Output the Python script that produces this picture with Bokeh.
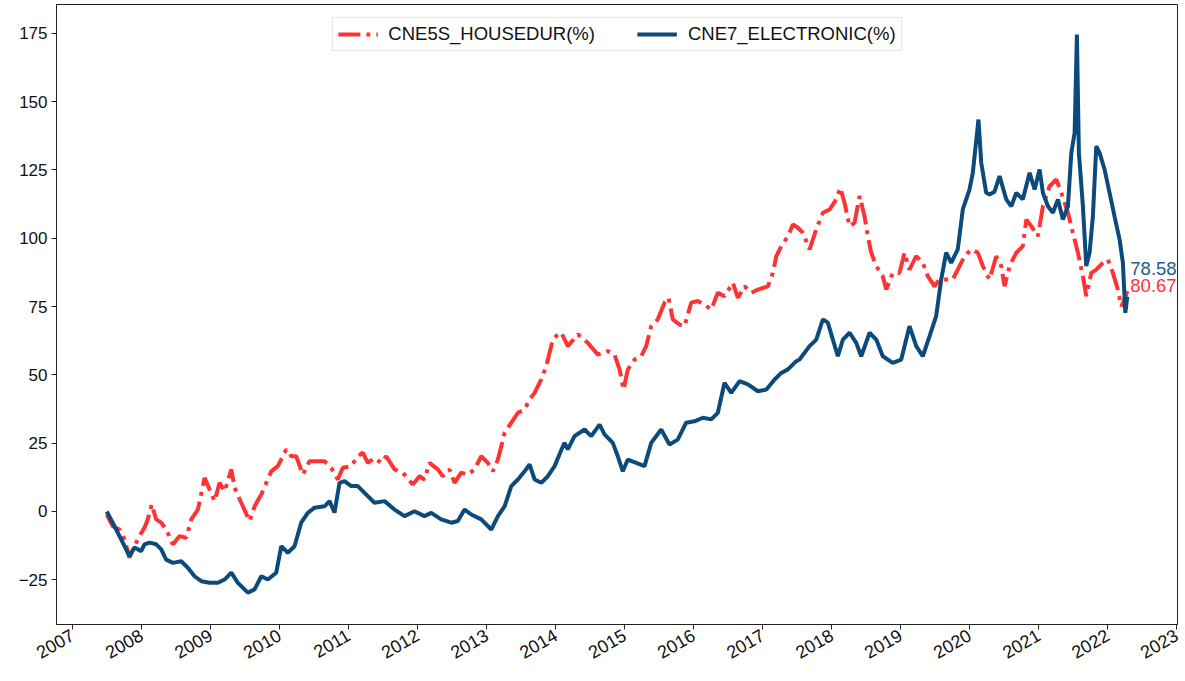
from datetime import datetime
from bokeh.plotting import figure
from bokeh.models import Range1d, FixedTicker, DatetimeTickFormatter, Legend, LegendItem
from bokeh.core.properties import value
from bokeh.embed import file_html
from bokeh.resources import INLINE

# ---- data (decimal years, cumulative return %) ----
elec_t = [2007.497, 2007.609, 2007.706, 2007.826, 2007.899, 2007.996, 2008.043, 2008.116, 2008.213, 2008.286,
          2008.358, 2008.454, 2008.575, 2008.671, 2008.768, 2008.865, 2008.986, 2009.106, 2009.203, 2009.300,
          2009.396, 2009.541, 2009.638, 2009.735, 2009.830, 2009.952, 2010.025, 2010.120, 2010.217, 2010.314,
          2010.410, 2010.507, 2010.652, 2010.725, 2010.797, 2010.870, 2010.942, 2011.039, 2011.135, 2011.232,
          2011.377, 2011.522, 2011.667, 2011.812, 2011.957, 2012.101, 2012.199, 2012.343, 2012.488, 2012.584,
          2012.681, 2012.778, 2012.923, 2013.068, 2013.164, 2013.261, 2013.358, 2013.454, 2013.551, 2013.623,
          2013.696, 2013.793, 2013.888, 2013.986, 2014.083, 2014.130, 2014.178, 2014.275, 2014.420, 2014.517,
          2014.638, 2014.710, 2014.830, 2014.903, 2014.975, 2015.048, 2015.170, 2015.290, 2015.387, 2015.532,
          2015.652, 2015.772, 2015.894, 2016.014, 2016.135, 2016.257, 2016.352, 2016.449, 2016.546, 2016.667,
          2016.787, 2016.932, 2017.054, 2017.174, 2017.271, 2017.367, 2017.488, 2017.535, 2017.681, 2017.778,
          2017.874, 2017.946, 2018.019, 2018.091, 2018.164, 2018.261, 2018.358, 2018.430, 2018.551, 2018.648,
          2018.743, 2018.888, 2019.010, 2019.130, 2019.228, 2019.323, 2019.420, 2019.517, 2019.590, 2019.662,
          2019.735, 2019.830, 2019.903, 2020.000, 2020.048, 2020.130, 2020.170, 2020.242, 2020.290, 2020.362,
          2020.435, 2020.532, 2020.604, 2020.677, 2020.772, 2020.870, 2020.942, 2021.014, 2021.062, 2021.135,
          2021.207, 2021.280, 2021.352, 2021.425, 2021.474, 2021.522, 2021.555, 2021.584, 2021.642, 2021.691,
          2021.739, 2021.787, 2021.836, 2021.884, 2021.957, 2022.029, 2022.101, 2022.174, 2022.222, 2022.257,
          2022.286]
elec_v = [0.0, -5.4, -10.2, -16.3, -13.2, -14.5, -12.0, -11.4, -12.0, -13.9,
          -17.6, -18.8, -18.2, -20.6, -23.7, -25.5, -26.1, -26.1, -24.9, -22.4,
          -26.1, -29.7, -28.5, -23.7, -24.9, -22.4, -12.7, -15.1, -12.7, -4.1,
          -0.5, 1.4, 1.9, 3.8, -0.4, 10.5, 11.1, 9.3, 9.3, 6.8,
          3.2, 3.8, 0.7, -1.7, 0.1, -1.7, -0.5, -2.9, -4.1, -3.5,
          0.7, -1.1, -2.9, -6.6, -1.7, 1.9, 9.3, 11.7, 14.7, 17.2,
          11.7, 10.5, 12.9, 16.6, 22.5, 25.1, 22.7, 27.6, 30.0, 27.6,
          31.8, 28.2, 25.1, 20.2, 14.7, 19.0, 17.8, 16.6, 25.1, 30.0,
          24.5, 26.3, 32.5, 33.0, 34.3, 33.7, 36.1, 47.1, 43.4, 47.7,
          46.5, 44.0, 44.6, 48.3, 50.7, 52.0, 55.0, 55.6, 60.5, 62.9,
          70.3, 69.1, 62.9, 56.8, 62.9, 65.4, 61.7, 56.8, 65.4, 62.9,
          56.8, 54.4, 55.6, 67.8, 60.5, 56.8, 64.1, 71.5, 84.9, 94.7,
          91.0, 95.9, 110.5, 117.8, 123.9, 143.4, 127.6, 116.6, 116.0, 117.0,
          122.7, 114.2, 111.7, 116.6, 114.2, 123.9, 117.8, 125.1, 116.6, 111.7,
          109.3, 114.2, 106.8, 111.7, 131.2, 138.5, 174.5, 131.2, 111.7, 89.8,
          94.7, 108.0, 133.7, 131.2, 125.1, 116.6, 108.0, 99.5, 91.0, 72.7,
          78.58]

house_t = [2007.497, 2007.584, 2007.681, 2007.754, 2007.826, 2007.899, 2007.971, 2008.043, 2008.091, 2008.149,
           2008.213, 2008.286, 2008.358, 2008.454, 2008.551, 2008.648, 2008.720, 2008.816, 2008.913, 2008.986,
           2009.058, 2009.130, 2009.203, 2009.300, 2009.348, 2009.445, 2009.565, 2009.638, 2009.735, 2009.807,
           2009.880, 2009.975, 2010.097, 2010.170, 2010.242, 2010.338, 2010.435, 2010.532, 2010.652, 2010.749,
           2010.845, 2010.917, 2011.039, 2011.135, 2011.207, 2011.280, 2011.377, 2011.474, 2011.546, 2011.667,
           2011.787, 2011.932, 2012.029, 2012.101, 2012.174, 2012.294, 2012.367, 2012.464, 2012.536, 2012.633,
           2012.729, 2012.826, 2012.923, 2013.019, 2013.091, 2013.164, 2013.213, 2013.261, 2013.358, 2013.454,
           2013.551, 2013.623, 2013.696, 2013.793, 2013.865, 2013.913, 2013.961, 2014.033, 2014.083, 2014.178,
           2014.323, 2014.468, 2014.613, 2014.758, 2014.855, 2014.928, 2014.986, 2015.048, 2015.145, 2015.242,
           2015.314, 2015.387, 2015.483, 2015.580, 2015.638, 2015.700, 2015.797, 2015.870, 2015.967, 2016.062,
           2016.159, 2016.257, 2016.352, 2016.449, 2016.570, 2016.642, 2016.739, 2016.836, 2016.932, 2017.077,
           2017.149, 2017.199, 2017.271, 2017.367, 2017.439, 2017.512, 2017.584, 2017.681, 2017.778, 2017.874,
           2017.971, 2018.068, 2018.126, 2018.188, 2018.261, 2018.333, 2018.406, 2018.478, 2018.526, 2018.575,
           2018.648, 2018.743, 2018.793, 2018.888, 2018.986, 2019.058, 2019.130, 2019.228, 2019.323, 2019.396,
           2019.493, 2019.565, 2019.662, 2019.758, 2019.855, 2019.928, 2020.025, 2020.120, 2020.193, 2020.290,
           2020.387, 2020.459, 2020.507, 2020.580, 2020.677, 2020.772, 2020.822, 2020.894, 2020.990, 2021.062,
           2021.159, 2021.256, 2021.329, 2021.425, 2021.497, 2021.570, 2021.642, 2021.691, 2021.764, 2021.836,
           2021.932, 2022.004, 2022.077, 2022.149, 2022.199, 2022.246, 2022.286]
house_v = [-1.1, -5.4, -6.6, -10.2, -16.9, -12.7, -9.0, -6.0, -2.9, 2.6,
           -2.9, -4.1, -6.6, -12.1, -9.0, -9.6, -2.9, 0.7, 12.3, 8.0,
           3.8, 10.5, 7.4, 15.4, 8.7, 3.2, -3.5, 1.9, 6.2, 10.5,
           14.7, 16.6, 22.7, 20.2, 20.2, 13.5, 18.4, 18.4, 18.4, 16.0,
           11.7, 16.0, 16.6, 20.2, 21.5, 17.8, 19.6, 17.8, 20.2, 15.4,
           14.2, 9.9, 12.9, 11.7, 17.8, 15.4, 12.9, 15.4, 10.5, 14.2,
           13.5, 15.4, 20.2, 17.8, 14.7, 19.0, 23.9, 28.8, 32.5, 36.1,
           37.3, 41.0, 43.4, 48.3, 53.2, 58.1, 62.9, 64.8, 65.4, 60.5,
           64.8, 61.7, 57.4, 58.7, 57.4, 52.0, 44.6, 52.0, 55.6, 56.8,
           60.5, 67.8, 70.3, 76.4, 78.2, 70.3, 68.4, 67.8, 76.4, 77.0,
           75.7, 73.9, 80.0, 78.8, 83.7, 78.2, 82.4, 80.0, 81.2, 82.4,
           87.3, 93.4, 97.1, 100.7, 105.0, 103.8, 102.0, 95.9, 103.2, 109.3,
           110.5, 114.2, 118.4, 112.9, 104.4, 105.6, 115.4, 108.0, 100.7, 94.7,
           89.8, 86.1, 81.2, 87.3, 87.3, 94.7, 88.5, 93.4, 91.0, 86.1,
           82.4, 84.9, 84.9, 84.9, 89.8, 93.4, 95.9, 94.7, 89.8, 84.9,
           93.4, 89.8, 82.4, 89.8, 94.7, 97.1, 106.8, 104.4, 100.7, 111.7,
           119.0, 121.5, 116.6, 109.3, 102.0, 94.7, 86.1, 78.8, 87.3, 88.5,
           91.0, 92.2, 87.3, 81.2, 75.1, 77.6, 80.67]

series_names = ["CNE5S_HOUSEDUR(%)", "CNE7_ELECTRONIC(%)"]
end_labels = ["80.67", "78.58"]
tick_years = list(range(2007, 2024))
y_ticks = [-25, 0, 25, 50, 75, 100, 125, 150, 175]

RED = "#ff3333"
BLUE = "#0b4a7a"
FONT = "Liberation Sans"


def to_dt(t):
    y = int(t)
    a, b = datetime(y, 1, 1), datetime(y + 1, 1, 1)
    return a + (b - a) * (t - y)


ex = [to_dt(t) for t in elec_t]
hx = [to_dt(t) for t in house_t]

p = figure(width=1184, height=676, x_axis_type="datetime", output_backend="svg",
           toolbar_location=None, min_border_left=56, min_border_right=7,
           min_border_top=4, min_border_bottom=52,
           x_range=Range1d(to_dt(2006.768), to_dt(2023.014)),
           y_range=Range1d(-41.35, 185.5))
p.background_fill_color = "white"
p.border_fill_color = "white"
p.grid.visible = False
p.outline_line_color = "#222222"
p.outline_line_width = 1

r_house = p.line(hx, house_v, line_color=RED, line_width=4, line_dash="22 6 4 6")
r_elec = p.line(ex, elec_v, line_color=BLUE, line_width=4)

p.text(x=[hx[-1]], y=[house_v[-1]], text=[end_labels[0]], text_color=RED,
       text_font=value(FONT), text_font_size="18.5px", text_baseline="alphabetic",
       text_align="left", x_offset=3, y_offset=-6)
p.text(x=[ex[-1]], y=[elec_v[-1]], text=[end_labels[1]], text_color="#1f5a8c",
       text_font=value(FONT), text_font_size="18.5px", text_baseline="alphabetic",
       text_align="left", x_offset=3, y_offset=-28)

ticks_ms = [datetime(y, 1, 1).timestamp() * 1000 for y in tick_years]
p.xaxis.ticker = FixedTicker(ticks=ticks_ms)
p.xaxis.formatter = DatetimeTickFormatter(years="%Y", months="%Y", days="%Y", hours="%Y")
p.xaxis.major_label_orientation = 0.5236
p.yaxis.ticker = FixedTicker(ticks=y_ticks)
for ax in (p.xaxis, p.yaxis):
    ax.major_label_text_font = FONT
    ax.major_label_text_color = "#111111"
    ax.axis_line_color = "#222222"
    ax.major_tick_line_color = "#222222"
    ax.major_tick_in = 0
    ax.major_tick_out = 5
    ax.minor_tick_line_color = None
    ax.major_label_standoff = 4
p.xaxis.major_label_text_font_size = "18px"
p.yaxis.major_label_text_font_size = "17px"

legend = Legend(items=[LegendItem(label=series_names[0], renderers=[r_house]),
                       LegendItem(label=series_names[1], renderers=[r_elec])],
                location="top_center", orientation="horizontal",
                label_text_font=FONT, label_text_font_size="18.5px", label_text_color="#111111",
                glyph_width=40, glyph_height=18, label_height=18, label_standoff=11, spacing=42,
                padding=5, margin=13, border_line_color="#cccccc", border_line_width=1,
                background_fill_alpha=1.0)
p.add_layout(legend)

open("out.html", "w").write(file_html(p, INLINE))
